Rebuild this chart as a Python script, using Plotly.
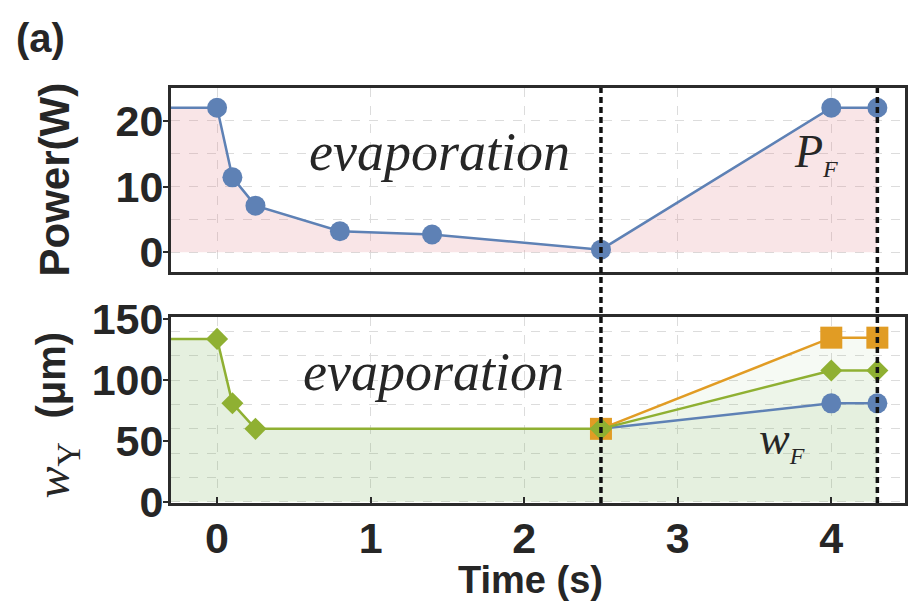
import plotly.graph_objects as go

# ---- data -------------------------------------------------------------
# Power ramp (top panel)
t_power = [0.0, 0.1, 0.25, 0.8, 1.4, 2.5, 4.0, 4.3]
power_w = [22.0, 11.4, 7.1, 3.2, 2.7, 0.4, 22.0, 22.0]

# Beam waist w_Y (bottom panel): common evaporation stage ...
t_evap = [0.0, 0.1, 0.25, 2.5]
w_evap = [134, 81, 60, 60]
# ... followed by three final ramps
t_final = [2.5, 4.0, 4.3]
w_final_circle = [60, 81, 81]
w_final_diamond = [60, 108, 108]
w_final_square = [60, 135, 135]

x_ticks = [0, 1, 2, 3, 4]
p_ticks = [0, 10, 20]
w_ticks = [0, 50, 100, 150]
marker_times = [2.5, 4.3]

X_MIN, X_MAX = -0.3, 4.48

# ---- style ------------------------------------------------------------
BLUE = "#5e81b5"
ORANGE = "#e19c24"
GREEN = "#8fb032"
INK = "#262626"
FRAME = "#2b2b2b"
GRID = "#dcdcdc"
SANS = "Liberation Sans"
SERIF = "Liberation Serif"

W, H = 911, 612
L, R, T, B = 171, 3, 88, 109
PW, PH = W - L - R, H - T - B


def fx(px):
    return (px - L) / PW


def fy(py):
    return 1 - (py - T) / PH


fig = go.Figure()

# power: hold value drawn from the left edge, filled down to zero
fig.add_trace(go.Scatter(
    x=[X_MIN] + t_power, y=[power_w[0]] + power_w,
    mode="lines", line=dict(color=BLUE, width=2.5),
    fill="tozeroy", fillcolor="rgba(226,130,140,0.21)",
    xaxis="x", yaxis="y", showlegend=False, hoverinfo="skip"))
fig.add_trace(go.Scatter(
    x=t_power, y=power_w, mode="markers",
    marker=dict(symbol="circle", size=20, color=BLUE),
    xaxis="x", yaxis="y", showlegend=False))

# waist: one filled curve per final ramp
series = [
    (w_final_circle, BLUE, "circle", 20),
    (w_final_square, ORANGE, "square", 22),
    (w_final_diamond, GREEN, "diamond", 17),
]
for w_final, color, symbol, size in series:
    xs = [X_MIN] + t_evap + t_final[1:]
    ys = [w_evap[0]] + w_evap + w_final[1:]
    fig.add_trace(go.Scatter(
        x=xs, y=ys, mode="lines", line=dict(color="rgba(0,0,0,0)", width=0),
        fill="tozeroy", fillcolor="rgba(125,178,95,0.065)",
        xaxis="x2", yaxis="y2", showlegend=False, hoverinfo="skip"))

for w_final, color, symbol, size in series:
    fig.add_trace(go.Scatter(
        x=t_final, y=w_final, mode="lines+markers",
        line=dict(color=color, width=2.5),
        marker=dict(symbol=symbol, size=size, color=color),
        xaxis="x2", yaxis="y2", showlegend=False))

fig.add_trace(go.Scatter(
    x=[X_MIN] + t_evap, y=[w_evap[0]] + w_evap,
    mode="lines", line=dict(color=GREEN, width=2.5),
    xaxis="x2", yaxis="y2", showlegend=False, hoverinfo="skip"))
fig.add_trace(go.Scatter(
    x=t_evap, y=w_evap, mode="markers",
    marker=dict(symbol="diamond", size=17, color=GREEN),
    xaxis="x2", yaxis="y2", showlegend=False))

# ---- axes -------------------------------------------------------------
top_dom = [fy(272), 1.0]
bot_dom = [0.0, fy(317)]

frame = dict(showline=True, linecolor=FRAME, linewidth=3, mirror=True,
             zeroline=False)
grid = dict(showgrid=True, gridcolor=GRID, gridwidth=1, griddash="dash")
tickfont = dict(family=SANS, size=43, color=INK, weight="bold")

fig.update_layout(
    xaxis=dict(domain=[0, 1], range=[X_MIN, X_MAX], anchor="y",
               tickvals=x_ticks, showticklabels=False, ticks="",
               **frame, **grid),
    yaxis=dict(domain=top_dom, range=[-3, 25], anchor="x",
               tickvals=p_ticks, ticks="outside", ticklen=5, tickwidth=2,
               tickcolor=FRAME, tickfont=tickfont, ticklabelstandoff=-9,
               minor=dict(dtick=5, tick0=0, showgrid=True, gridcolor=GRID,
                          griddash="dash", gridwidth=1, ticks=""),
               **frame, **grid),
    xaxis2=dict(domain=[0, 1], range=[X_MIN, X_MAX], anchor="y2",
                tickvals=x_ticks, ticks="inside", ticklen=6, tickwidth=2,
                tickcolor=FRAME, tickfont=tickfont, ticklabelstandoff=-5,
                **frame, **grid),
    yaxis2=dict(domain=bot_dom, range=[-1, 152], anchor="x2",
                tickvals=w_ticks, ticks="outside", ticklen=5, tickwidth=2,
                tickcolor=FRAME, tickfont=tickfont, ticklabelstandoff=-9,
                showgrid=False,
                minor=dict(dtick=20, tick0=0, showgrid=True, gridcolor=GRID,
                           griddash="dash", gridwidth=1, ticks=""),
                **frame),
)

# stage boundaries through both panels
for t in marker_times:
    fig.add_shape(type="line", xref="x", yref="paper", x0=t, x1=t,
                  y0=0, y1=1, layer="above",
                  line=dict(color="#111111", width=3.5, dash="6px,4px"))

# ---- text -------------------------------------------------------------
def label(text, x, y, xref="paper", yref="paper", **kw):
    return dict(text=text, x=x, y=y, xref=xref, yref=yref,
                xanchor="center", yanchor="middle", showarrow=False, **kw)


bold40 = dict(family=SANS, size=40, color=INK, weight="bold")
ann = [
    label("(a)", fx(40), fy(38), font=bold40),
    label("Power(W)", fx(54), fy(179), textangle=-90,
          font=dict(family=SANS, size=42, color=INK, weight="bold")),
    label("(μm)", fx(51), fy(375), textangle=-90, font=bold40),
    label("w<sub><span style='font-style:normal'>Y</span></sub>",
          fx(56), fy(470), textangle=-90,
          font=dict(family=SERIF, size=48, color=INK, style="italic")),
    label("Time (s)", fx(532), fy(580),
          font=dict(family=SANS, size=38, color=INK, weight="bold")),
    label("evaporation", 1.45, 15.2, "x", "y",
          font=dict(family=SERIF, size=54, color=INK, style="italic")),
    label("evaporation", 1.41, 107, "x2", "y2",
          font=dict(family=SERIF, size=54, color=INK, style="italic")),
    label("P<sub><span style='font-size:24px'>F</span></sub>",
          3.9, 15.0, "x", "y",
          font=dict(family=SERIF, size=46, color=INK, style="italic")),
    label("w<sub><span style='font-size:24px'>F</span></sub>",
          3.68, 50, "x2", "y2",
          font=dict(family=SERIF, size=46, color=INK, style="italic")),
]

fig.update_layout(
    annotations=ann,
    width=W, height=H,
    margin=dict(l=L, r=R, t=T, b=B, pad=0),
    paper_bgcolor="white", plot_bgcolor="white",
    showlegend=False,
)

fig.write_html("out.html")
